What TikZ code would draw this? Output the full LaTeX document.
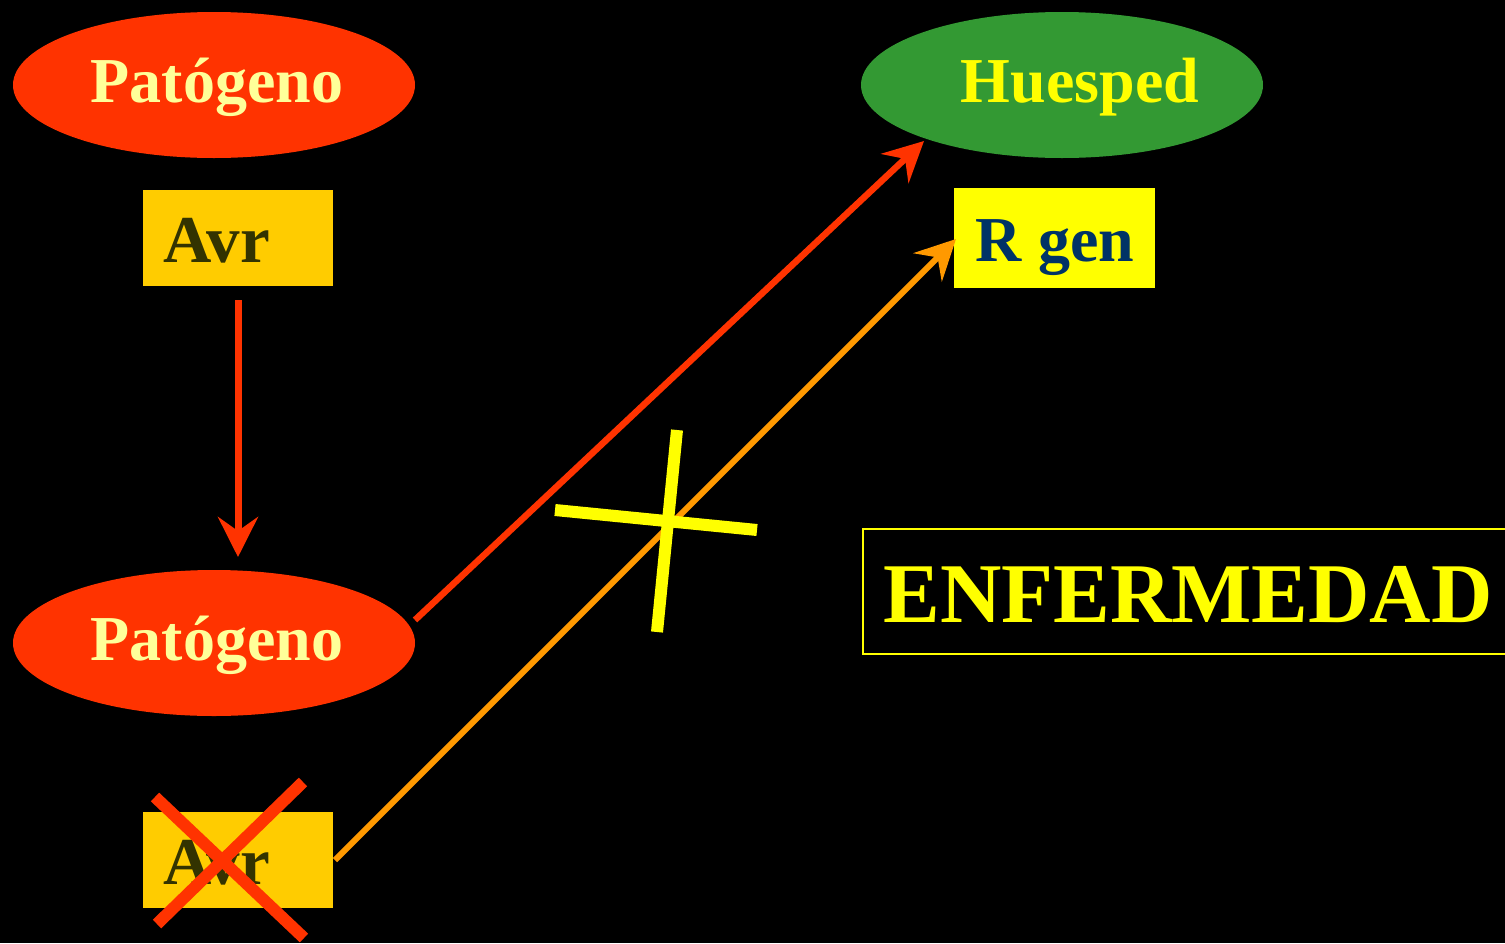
\documentclass[tikz,border=0pt]{standalone}
\usepackage{fontspec}
\setmainfont{Liberation Serif}
\usetikzlibrary{arrows.meta,shapes.geometric}
\definecolor{redorange}{HTML}{FF3300}
\definecolor{gold}{HTML}{FFCC00}
\definecolor{olive}{HTML}{333300}
\definecolor{leaf}{HTML}{339933}
\definecolor{brightyellow}{HTML}{FFFF00}
\definecolor{cream}{HTML}{FFFF99}
\definecolor{navy}{HTML}{003366}
\definecolor{amber}{HTML}{FF9900}
\begin{document}
\begin{tikzpicture}[x=1pt,y=-1pt,
  organism/.style={ellipse, minimum width=402pt, minimum height=146pt, inner sep=0pt},
  label/.style={inner sep=0pt, anchor=base, font=\fontsize{64}{70}\selectfont\bfseries},
  genebox/.style={rectangle, inner sep=0pt},
  tip/.style={-{Stealth[length=40pt,width=40pt,inset=14pt]}},
  strike/.style={line width=12pt},
]
\fill[black] (0,0) rectangle (1505,943);
\useasboundingbox (0,0) rectangle (1505,943);

% organisms
\node[organism, fill=redorange] (pat1) at (214,85) {};
\node[label, text=cream] (pat1t) at (217,102) {Patógeno};
\node[organism, fill=redorange] (pat2) at (214,643) {};
\node[label, text=cream] (pat2t) at (217,660) {Patógeno};
\node[organism, fill=leaf] (host) at (1062,85) {};
\node[label, text=brightyellow] (hostt) at (1080,102) {Huesped};

% genes
\node[genebox, fill=gold, minimum width=190pt, minimum height=96pt] (avr1) at (238,238) {};
\node[label, text=olive, anchor=base west, font=\fontsize{67}{72}\selectfont\bfseries] (avr1t) at (163,262) {Avr};
\node[genebox, fill=gold, minimum width=190pt, minimum height=96pt] (avr2) at (238,860) {};
\node[label, text=olive, anchor=base west, font=\fontsize{67}{72}\selectfont\bfseries] (avr2t) at (163,884) {Avr};
\node[genebox, fill=brightyellow, minimum width=201pt, minimum height=100pt] (rgen) at (1054.5,238) {};
\node[label, text=navy] (rgent) at (1055,261) {R gen};

% outcome
\node[draw=brightyellow, line width=1.5pt, rectangle, minimum width=660pt, minimum height=125pt,
  anchor=west, inner sep=0pt] (dis) at (862,591.5) {};
\node[label, text=brightyellow, font=\fontsize{85}{90}\selectfont\bfseries] (dist) at (1188,622) {ENFERMEDAD};

% connectors
\coordinate (a1) at (238,300);
\coordinate (a2) at (238,557);
\draw[redorange, line width=7pt, tip] (a1) -- (a2);
\coordinate (r1) at (415,620);
\coordinate (r2) at (924,141);
\draw[redorange, line width=6.5pt, tip] (r1) -- (r2);
\coordinate (o1) at (335,860);
\coordinate (o2) at (956,239);
\draw[amber, line width=6pt, tip] (o1) -- (o2);

% crossed-out Avr
\coordinate (x1) at (155,797);
\coordinate (x2) at (304,938);
\coordinate (x3) at (303,782);
\coordinate (x4) at (157,924);
\draw[redorange, strike] (x1) -- (x2);
\draw[redorange, strike] (x3) -- (x4);

% blocked interaction
\coordinate (y1) at (555,510);
\coordinate (y2) at (757,530);
\coordinate (y3) at (677,430);
\coordinate (y4) at (657,632);
\draw[brightyellow, strike] (y1) -- (y2);
\draw[brightyellow, strike] (y3) -- (y4);
\end{tikzpicture}
\end{document}
